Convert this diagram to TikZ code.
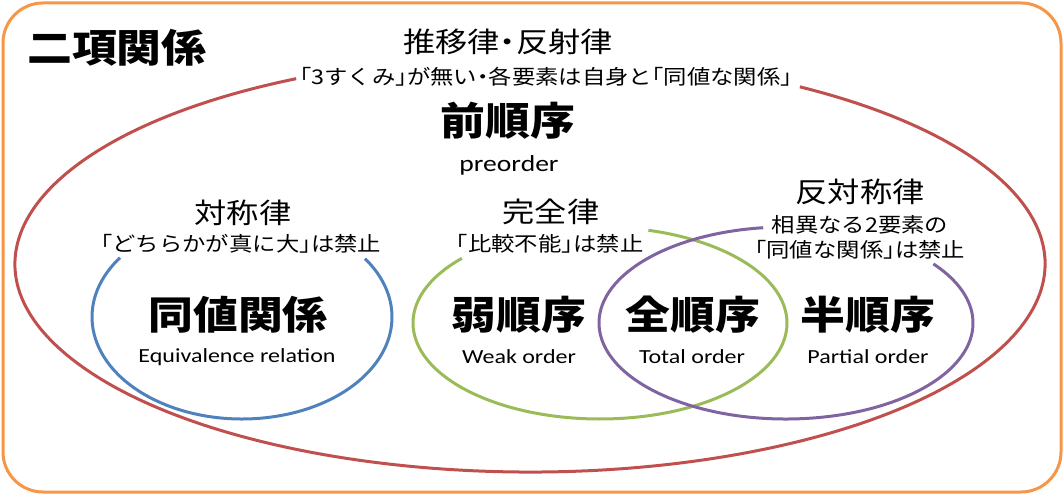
\documentclass[tikz,border=0pt]{standalone}
\usepackage{fontspec}
\setmainfont{Carlito}
\newfontfamily\jp[FakeStretch=1.15, RawFeature={+halt}]{Noto Sans CJK JP}
\newfontfamily\en[FakeStretch=1.2]{Carlito}
\usepackage{tikz}
\usetikzlibrary{calc}
\definecolor{FrameOrange}{RGB}{247,150,70}
\definecolor{SetRed}{RGB}{192,80,77}
\definecolor{SetBlue}{RGB}{79,129,189}
\definecolor{SetGreen}{RGB}{155,187,89}
\definecolor{SetPurple}{RGB}{128,100,162}

\begin{document}
\begin{tikzpicture}[x=1pt, y=-1pt,
	title/.style={font=\jp\bfseries\fontsize{39}{43}\selectfont, inner sep=0pt},
	law/.style={font=\jp\fontsize{28}{31}\selectfont, inner sep=0pt},
	note/.style={font=\jp\fontsize{20.3}{24}\selectfont, inner sep=0pt},
	eng/.style={font=\en\fontsize{20}{24}\selectfont, inner sep=0pt},
	set/.style={line width=3pt}]
		\useasboundingbox (0,0) rectangle (1064,495);
		
		% 外枠
		\draw[FrameOrange, line width=3pt, rounded corners=40pt] (3,3) rectangle (1061,492);
		
		% 集合の中心
		\coordinate (Pre) at (530,264);
		\coordinate (Eq) at (242,317);
		\coordinate (Wk) at (600,323);
		\coordinate (Pa) at (786,323);
		
		% 楕円 (上部は文字のため切れる)
		\draw[set, SetRed] (Pre) ++(117:515pt and 208pt) arc[start angle=117, end angle=418.4, x radius=515pt, y radius=208pt];
		\draw[set, SetBlue] (Eq) ++(144.4:150pt and 102pt) arc[start angle=144.4, end angle=394.9, x radius=150pt, y radius=102pt];
		\draw[set, SetGreen] (Wk) ++(137.6:187pt and 96pt) arc[start angle=137.6, end angle=435, x radius=187pt, y radius=96pt];
		\draw[set, SetPurple] (Pa) ++(97:187pt and 96pt) arc[start angle=97, end angle=398, x radius=187pt, y radius=96pt];
		
		% 見出し
		\node[title] (binrel) at (117,48) {二項関係};
		\node[law] (preT) at (508,42) {推移律・反射律};
		\node[note] (preC) at (546,77) {「3すくみ」が無い・各要素は自身と「同値な関係」};
		\node[title] (pre) at (508,121) {前順序};
		\node[eng, font=\en\fontsize{23}{26}\selectfont] (preEn) at (509,165) {preorder};
		
		% 対称律
		\node[law] (symT) at (243,213) {対称律};
		\node[note] (symC) at (241,244) {「どちらかが真に大」は禁止};
		\node[title] (equiv) at (238,315) {同値関係};
		\node[eng] (equivEn) at (237,357) {Equivalence relation};
		
		% 完全律
		\node[law] (compT) at (551,212) {完全律};
		\node[note] (compC) at (550,244) {「比較不能」は禁止};
		\node[title] (weak) at (519,315) {弱順序};
		\node[eng] (weakEn) at (519,357) {Weak order};
		\node[title] (total) at (693,315) {全順序};
		\node[eng] (totalEn) at (692,357) {Total order};
		
		% 反対称律
		\node[law] (antiT) at (860,192) {反対称律};
		\node[note] (antiC1) at (860,225) {相異なる2要素の};
		\node[note] (antiC2) at (860,250) {「同値な関係」は禁止};
		\node[title] (partial) at (868,315) {半順序};
		\node[eng] (partialEn) at (868,357) {Partial order};
	\end{tikzpicture}
\end{document}
